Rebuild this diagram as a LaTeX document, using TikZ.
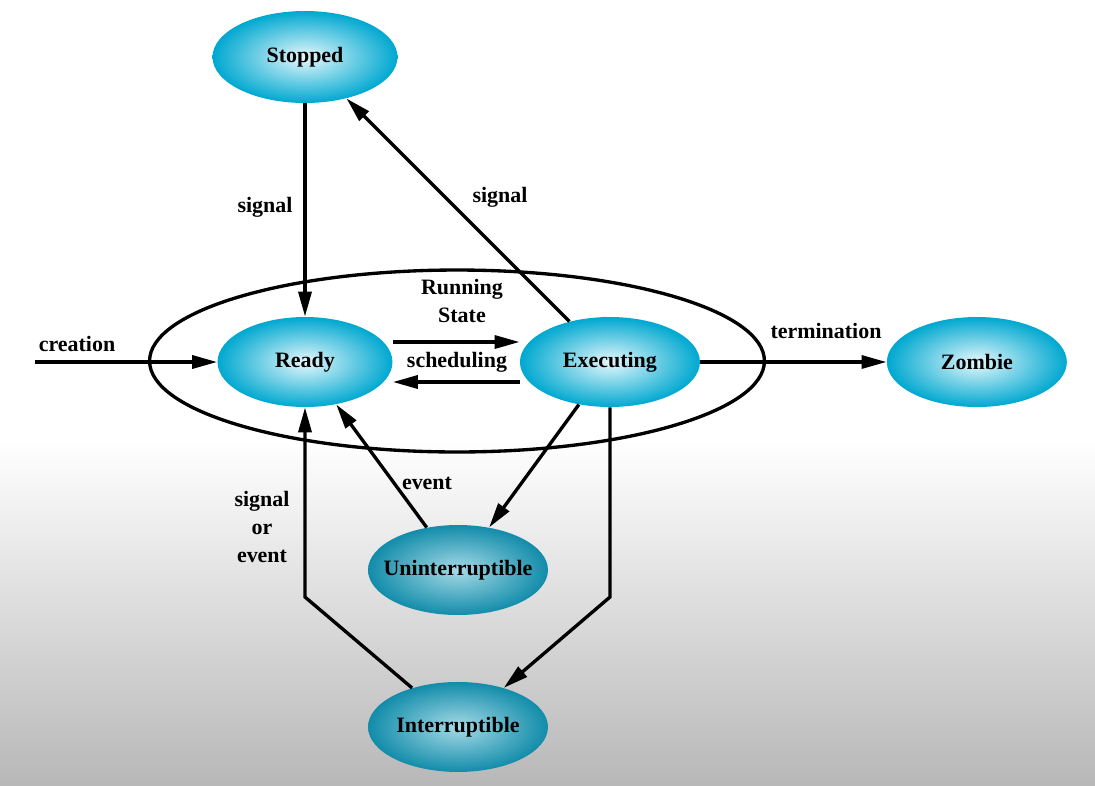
\documentclass[tikz,border=0pt]{standalone}
\usepackage{fontspec}
\setmainfont{Liberation Serif}
\usepackage{xcolor}
\usetikzlibrary{shapes.geometric, arrows.meta}
\definecolor{statelight}{RGB}{230,248,252}
\definecolor{statecyan}{RGB}{0,168,208}
\definecolor{lowlight}{RGB}{165,218,230}
\definecolor{lowcyan}{RGB}{18,140,170}
\newcommand{\ovaltext}[1]{\makebox[0pt]{#1}}
\tikzset{
    stateoval/.style = {ellipse, minimum width=3.6cm, minimum height=1.8cm, inner sep=0pt, text centered, inner color=statelight, outer color=statecyan, font=\fontsize{12.5}{15}\selectfont\bfseries},
    lowoval/.style = {stateoval, inner color=lowlight, outer color=lowcyan},
    runbox/.style = {ellipse, draw=black, line width=1.9pt, minimum width=12.3cm, minimum height=3.64cm, inner sep=0pt},
    lbl/.style = {align=center, inner sep=0pt, font=\fontsize{12.5}{16}\selectfont\bfseries},
    arrow/.style = {line width=1.9pt, -{Triangle[length=0.5cm, width=0.26cm]}}
}

\begin{document}
\begin{tikzpicture}[x=0.02cm, y=-0.02cm]
% background
\fill[white] (0,0) rectangle (1095,440);
\shade[top color=white, bottom color=black!28] (0,440) rectangle (1095,785);
\useasboundingbox (0,0) rectangle (1095,785);

\node (running) [runbox] at (457,361) {};
\node (stopped) [stateoval, minimum width=3.7cm, minimum height=1.84cm] at (305,57) {\ovaltext{Stopped}};
\node (ready) [stateoval, minimum width=3.5cm] at (305,362) {\ovaltext{Ready}};
\node (exec) [stateoval, right of=ready, node distance=6.1cm] {\ovaltext{Executing}};
\node (zombie) [stateoval, right of=exec, node distance=7.34cm] {\ovaltext{Zombie}};
\node (unint) [lowoval] at (458,570) {\ovaltext{Uninterruptible}};
\node (intr) [lowoval, below of=unint, node distance=3.14cm] {\ovaltext{Interruptible}};

\coordinate (crstart) at (35,362);
\coordinate (execdown) at (610,597);
\coordinate (intrup) at (305,597);

\draw [arrow] (crstart) -- (ready);
\draw [arrow] (stopped) -- (ready);
\draw [arrow] (exec) -- (stopped);
\draw [arrow] ([yshift=0.4cm]ready.east) -- ([yshift=0.4cm]exec.west);
\draw [arrow] ([yshift=-0.4cm]exec.west) -- ([yshift=-0.4cm]ready.east);
\draw [arrow] (exec) -- (zombie);
\draw [arrow] (exec) -- (unint);
\draw [arrow] (unint) -- (ready);
\draw [arrow] (exec.south) -- (execdown) -- (intr);
\draw [arrow] (intr) -- (intrup) -- (ready.south);

\node (lblcreation) [lbl] at (77,344) {creation};
\node (lblsigstop) [lbl] at (265,207) {signal};
\node (lblsigexec) [lbl] at (500,197) {signal};
\node (lblrunning) [lbl] at (462,301) {Running\\State};
\node (lblsched) [lbl] at (457,362) {scheduling};
\node (lblterm) [lbl] at (826,331) {termination};
\node (lblevent) [lbl] at (427,483) {event};
\node (lblsigor) [lbl] at (262,527) {signal\\or\\event};
\end{tikzpicture}
\end{document}
